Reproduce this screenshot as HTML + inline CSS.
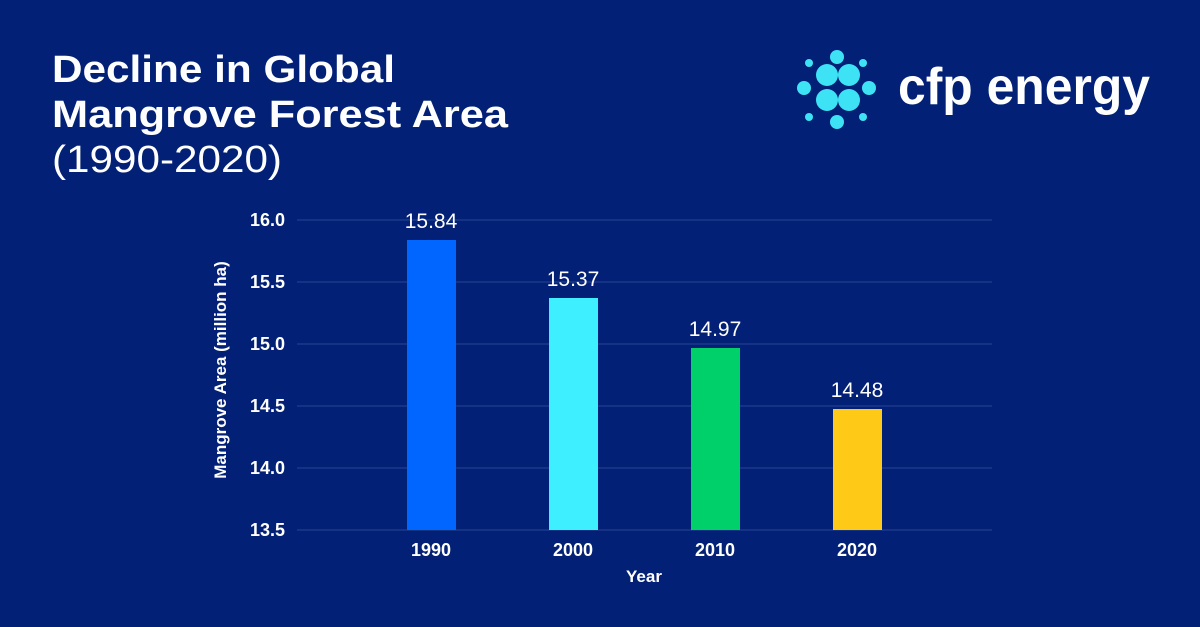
<!DOCTYPE html>
<html><head><meta charset="utf-8"><style>
html,body{margin:0;padding:0;}
body{width:1200px;height:627px;background:#022075;overflow:hidden;font-family:"Liberation Sans",sans-serif;}
</style></head><body>
<svg width="1200" height="627" xmlns="http://www.w3.org/2000/svg" style="display:block">
<rect width="1200" height="627" fill="#022075"/>
<text x="52" y="82" fill="#fff" font-size="38" font-weight="bold" textLength="343" lengthAdjust="spacingAndGlyphs">Decline in Global</text>
<text x="52" y="127" fill="#fff" font-size="38" font-weight="bold" textLength="456" lengthAdjust="spacingAndGlyphs">Mangrove Forest Area</text>
<text x="52" y="172" fill="#fff" font-size="38" textLength="230" lengthAdjust="spacingAndGlyphs">(1990-2020)</text>
<g fill="#3de3f5">
<circle cx="827" cy="75" r="11"/><circle cx="849" cy="75" r="11"/>
<circle cx="827" cy="100" r="11"/><circle cx="849" cy="100" r="11"/>
<circle cx="837" cy="57" r="7"/><circle cx="837" cy="122" r="7"/>
<circle cx="804" cy="88" r="7"/><circle cx="869" cy="88" r="7"/>
<circle cx="809" cy="63" r="4"/><circle cx="863" cy="63" r="4"/>
<circle cx="809" cy="117" r="4"/><circle cx="863" cy="117" r="4"/>
</g>
<text x="898" y="104" fill="#fff" font-size="52" font-weight="bold" textLength="252" lengthAdjust="spacingAndGlyphs">cfp energy</text>
<g stroke="#2a4494" stroke-width="1">
<line x1="297" y1="220" x2="992" y2="220"/><line x1="297" y1="282" x2="992" y2="282"/>
<line x1="297" y1="344" x2="992" y2="344"/><line x1="297" y1="406" x2="992" y2="406"/>
<line x1="297" y1="468" x2="992" y2="468"/><line x1="297" y1="530" x2="992" y2="530"/>
</g>
<g fill="#fff" font-size="18" font-weight="bold" text-anchor="end">
<text x="285" y="226">16.0</text><text x="285" y="288">15.5</text><text x="285" y="350">15.0</text>
<text x="285" y="412">14.5</text><text x="285" y="474">14.0</text><text x="285" y="536">13.5</text>
</g>
<rect x="407" y="240" width="49" height="290" fill="#0066ff"/>
<rect x="549" y="298" width="49" height="232" fill="#3defff"/>
<rect x="691" y="348" width="49" height="182" fill="#00d06a"/>
<rect x="833" y="409" width="49" height="121" fill="#ffc918"/>
<g fill="#fff" font-size="21" text-anchor="middle">
<text x="431" y="228">15.84</text><text x="573" y="286">15.37</text>
<text x="715" y="336">14.97</text><text x="857" y="397">14.48</text>
</g>
<g fill="#fff" font-size="18" font-weight="bold" text-anchor="middle">
<text x="431" y="556">1990</text><text x="573" y="556">2000</text>
<text x="715" y="556">2010</text><text x="857" y="556">2020</text>
<text x="644" y="582" font-size="17">Year</text>
<text transform="translate(226,370) rotate(-90)" font-size="17">Mangrove Area (million ha)</text>
</g>
</svg>
</body></html>
